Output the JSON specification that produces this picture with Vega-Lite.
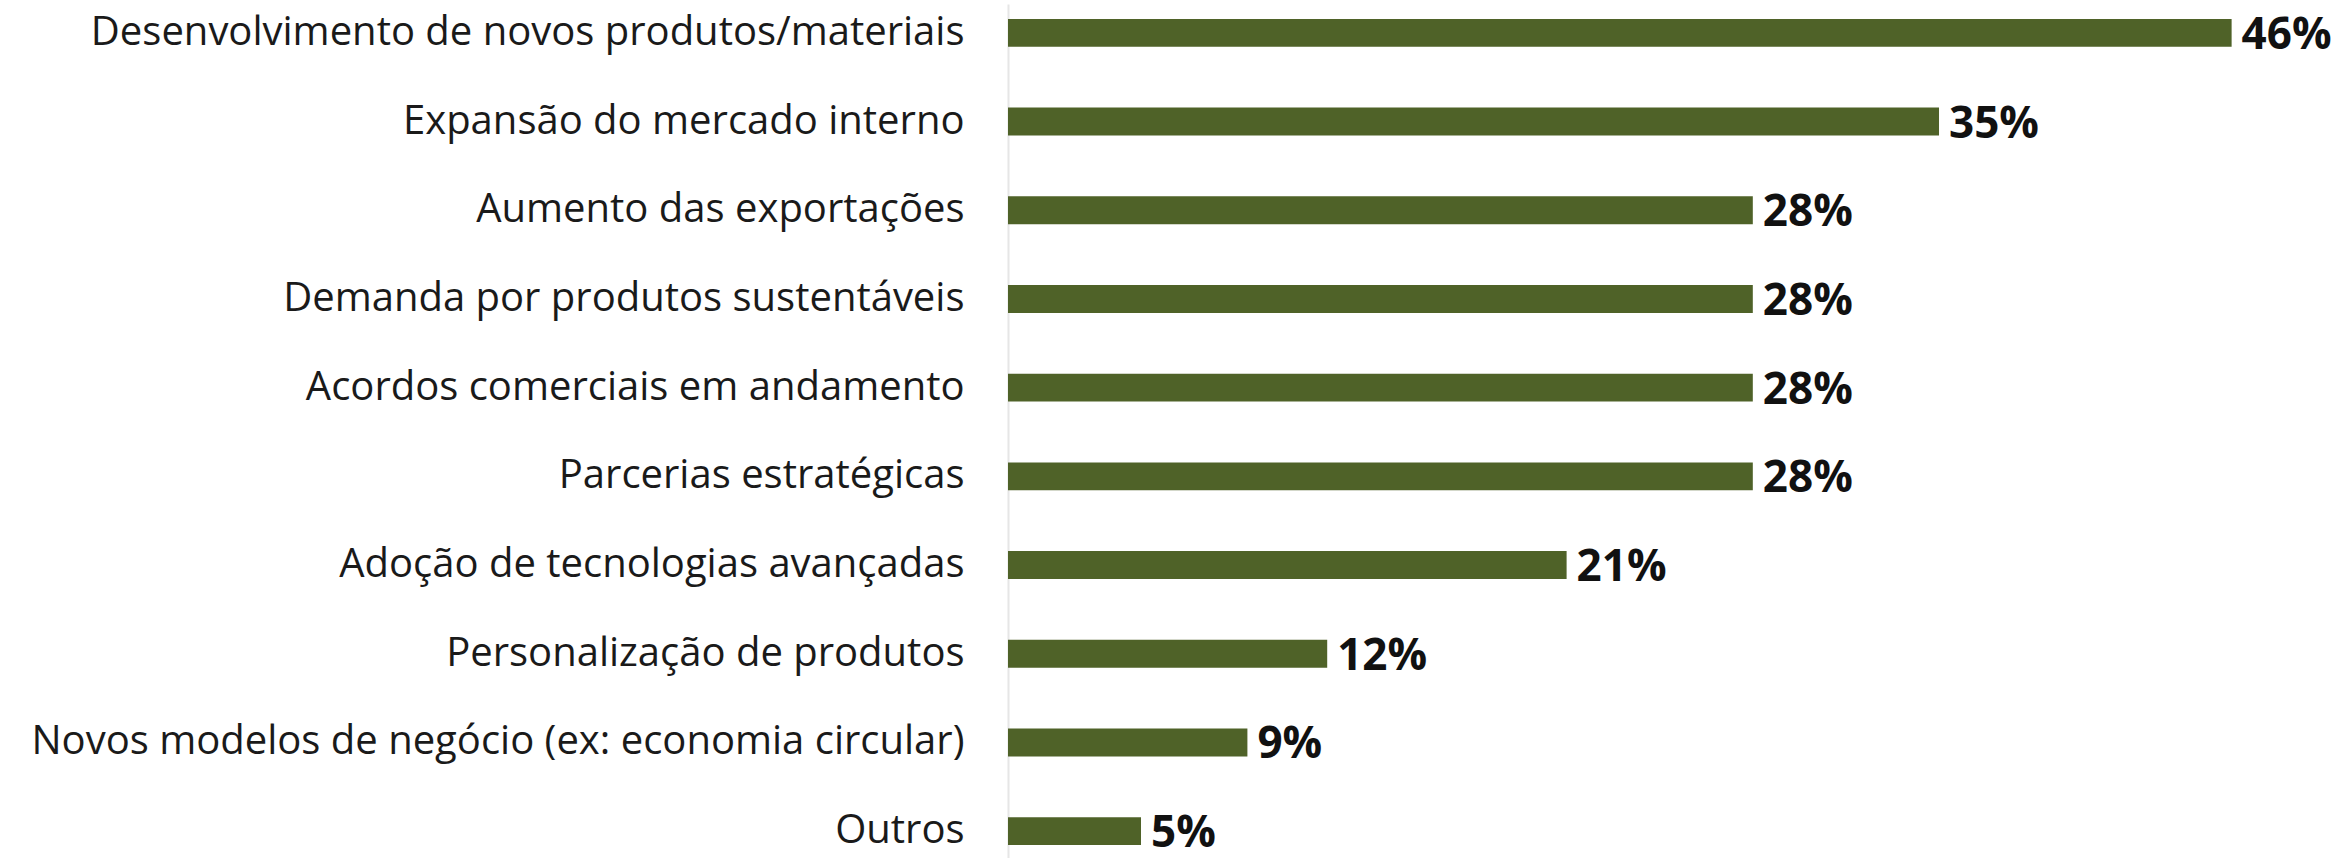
{
  "$schema": "https://vega.github.io/schema/vega-lite/v6.json",
  "autosize": {"type": "none"},
  "padding": {"left": 1008, "top": 4, "right": 0, "bottom": 0},
  "width": 1338,
  "height": 856,
  "background": "white",
  "config": {"view": {"stroke": null}},
  "data": {
    "values": [
      {"categoria": "Desenvolvimento de novos produtos/materiais", "valor": 0.46},
      {"categoria": "Expansão do mercado interno", "valor": 0.35},
      {"categoria": "Aumento das exportações", "valor": 0.28},
      {"categoria": "Demanda por produtos sustentáveis", "valor": 0.28},
      {"categoria": "Acordos comerciais em andamento", "valor": 0.28},
      {"categoria": "Parcerias estratégicas", "valor": 0.28},
      {"categoria": "Adoção de tecnologias avançadas", "valor": 0.21},
      {"categoria": "Personalização de produtos", "valor": 0.12},
      {"categoria": "Novos modelos de negócio (ex: economia circular)", "valor": 0.09},
      {"categoria": "Outros", "valor": 0.05}
    ]
  },
  "encoding": {
    "y": {
      "field": "categoria",
      "type": "nominal",
      "sort": null,
      "scale": {"paddingInner": 0.685, "paddingOuter": 0.168},
      "axis": {
        "title": null,
        "ticks": false,
        "domain": true,
        "domainColor": "#e6e6e6",
        "domainWidth": 2,
        "labelFont": "Open Sans",
        "labelFontSize": 40,
        "labelColor": "#1a1a1a",
        "labelPadding": 44,
        "labelLimit": 1000
      }
    },
    "x": {
      "field": "valor",
      "type": "quantitative",
      "scale": {"domain": [0, 0.503]},
      "axis": null
    }
  },
  "layer": [
    {"mark": {"type": "bar", "color": "#4f6228"}},
    {
      "mark": {
        "type": "text",
        "align": "left",
        "baseline": "middle",
        "dx": 10,
        "dy": 3,
        "font": "Open Sans",
        "fontSize": 44,
        "fontWeight": "bold",
        "color": "#111111"
      },
      "encoding": {"text": {"field": "valor", "type": "quantitative", "format": ".0%"}}
    }
  ]
}
